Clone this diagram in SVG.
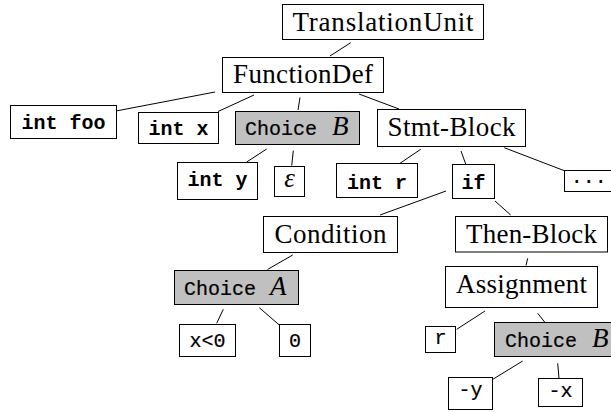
<svg xmlns="http://www.w3.org/2000/svg" width="611" height="412" viewBox="0 0 611 412">
  <style>
    .box { fill: #ffffff; stroke: #000000; stroke-width: 1; }
    .choice { fill: #c0c0c0; stroke: #000000; stroke-width: 1; }
    .rm { font-family: "Liberation Serif", "Times New Roman", serif; font-size: 27px; fill: #000; text-anchor: middle; }
    .tt { font-family: "Liberation Mono", "Courier New", monospace; font-size: 20px; fill: #000; stroke: #000; stroke-width: 0.2; }
    .ttb { font-family: "Liberation Mono", "Courier New", monospace; font-size: 20px; font-weight: bold; fill: #000; }
    .mid { text-anchor: middle; }
    .it { font-family: "Liberation Serif", "Times New Roman", serif; font-style: italic; font-size: 27px; stroke: none; }
    .edge { stroke: #000000; stroke-width: 1; fill: none; }
  </style>

  <!-- parse-tree edges -->
  <g id="connectors">
    <line class="edge" x1="350.7" y1="42.7" x2="330" y2="56"/>
    <line class="edge" x1="215" y1="92" x2="116" y2="111"/>
    <line class="edge" x1="254" y1="95" x2="218" y2="111.5"/>
    <line class="edge" x1="300" y1="97.5" x2="298" y2="110"/>
    <line class="edge" x1="359" y1="94" x2="399" y2="109"/>
    <line class="edge" x1="266.7" y1="149" x2="246.7" y2="162"/>
    <line class="edge" x1="293.3" y1="150.7" x2="291.7" y2="165.7"/>
    <line class="edge" x1="420.7" y1="149.3" x2="400" y2="163.3"/>
    <line class="edge" x1="461" y1="151" x2="465.7" y2="164"/>
    <line class="edge" x1="504.3" y1="147.7" x2="564.3" y2="170.7"/>
    <line class="edge" x1="446" y1="191" x2="380" y2="215"/>
    <line class="edge" x1="495" y1="201" x2="510.7" y2="215"/>
    <line class="edge" x1="292.7" y1="255" x2="267.5" y2="269.5"/>
    <line class="edge" x1="223.3" y1="309.3" x2="216.7" y2="323.3"/>
    <line class="edge" x1="259.3" y1="307.7" x2="279.3" y2="325"/>
    <line class="edge" x1="527.7" y1="258.3" x2="526" y2="265.5"/>
    <line class="edge" x1="485" y1="311" x2="456.7" y2="329.3"/>
    <line class="edge" x1="537.7" y1="313.3" x2="545" y2="322.5"/>
    <line class="edge" x1="522.7" y1="361" x2="491.7" y2="380"/>
    <line class="edge" x1="557.7" y1="363.3" x2="559" y2="378.3"/>
  </g>

  <g id="translation-unit">
    <rect class="box" x="282.5" y="4.5" width="201" height="35"/>
    <text class="rm" x="383" y="30.5" textLength="181">TranslationUnit</text>
  </g>
  <g id="function-def">
    <rect class="box" x="222.5" y="57.5" width="161" height="35"/>
    <text class="rm" x="303" y="82.5" textLength="140">FunctionDef</text>
  </g>
  <g id="decl-foo">
    <rect class="box" x="10.5" y="105.5" width="106" height="33"/>
    <text class="ttb mid" x="63.5" y="129">int foo</text>
  </g>
  <g id="decl-x">
    <rect class="box" x="138.5" y="112.5" width="80" height="31"/>
    <text class="ttb mid" x="178.5" y="134.5">int x</text>
  </g>
  <g id="choice-b-decl">
    <rect class="choice" x="235.5" y="111.5" width="124" height="33"/>
    <text class="tt" x="245" y="135">Choice <tspan class="it" dx="3">B</tspan></text>
  </g>
  <g id="stmt-block">
    <rect class="box" x="377.5" y="109.5" width="148" height="37"/>
    <text class="rm" x="451.5" y="136" textLength="128">Stmt-Block</text>
  </g>
  <g id="decl-y">
    <rect class="box" x="177.5" y="162.5" width="80" height="37"/>
    <text class="ttb mid" x="217.5" y="185.5">int y</text>
  </g>
  <g id="epsilon">
    <rect class="box" x="274.5" y="166.5" width="30" height="30"/>
    <text class="rm" x="289.5" y="187" font-style="italic">ε</text>
  </g>
  <g id="decl-r">
    <rect class="box" x="336.5" y="163.5" width="81" height="34"/>
    <text class="ttb mid" x="377" y="188.5">int r</text>
  </g>
  <g id="if-stmt">
    <rect class="box" x="452.5" y="164.5" width="42" height="34"/>
    <text class="ttb mid" x="473.5" y="189">if</text>
  </g>
  <g id="more-stmts">
    <rect class="box" x="564.5" y="170.5" width="49" height="21"/>
    <text class="tt" x="570.7" y="182.5">...</text>
  </g>
  <g id="condition">
    <rect class="box" x="263.5" y="216.5" width="134" height="36"/>
    <text class="rm" x="330.5" y="242.5" textLength="112">Condition</text>
  </g>
  <g id="then-block">
    <rect class="box" x="455.5" y="216.5" width="152" height="35.5"/>
    <text class="rm" x="531.5" y="242.5" textLength="131">Then-Block</text>
  </g>
  <g id="choice-a">
    <rect class="choice" x="174.5" y="270.5" width="124" height="34"/>
    <text class="tt" x="184" y="294.5">Choice <tspan class="it" dx="2">A</tspan></text>
  </g>
  <g id="assignment">
    <rect class="box" x="445.5" y="266.5" width="152" height="41"/>
    <text class="rm" x="521.5" y="293" textLength="131">Assignment</text>
  </g>
  <g id="cond-lt">
    <rect class="box" x="179.5" y="324.5" width="56" height="32"/>
    <text class="tt mid" x="207.5" y="347">x&lt;0</text>
  </g>
  <g id="cond-zero">
    <rect class="box" x="279.5" y="324.5" width="31" height="32"/>
    <text class="tt mid" x="295" y="347">0</text>
  </g>
  <g id="lhs-r">
    <rect class="box" x="425.5" y="326.5" width="30" height="26"/>
    <text class="tt mid" x="440.5" y="343.5">r</text>
  </g>
  <g id="choice-b-expr">
    <rect class="choice" x="494.5" y="322.5" width="124" height="34"/>
    <text class="tt" x="505" y="347">Choice <tspan class="it" dx="3">B</tspan></text>
  </g>
  <g id="neg-y">
    <rect class="box" x="448.5" y="377.5" width="44" height="32"/>
    <text class="tt mid" x="470.5" y="396">-y</text>
  </g>
  <g id="neg-x">
    <rect class="box" x="538.5" y="378.5" width="44" height="28"/>
    <text class="tt mid" x="560.5" y="397">-x</text>
  </g>
</svg>
